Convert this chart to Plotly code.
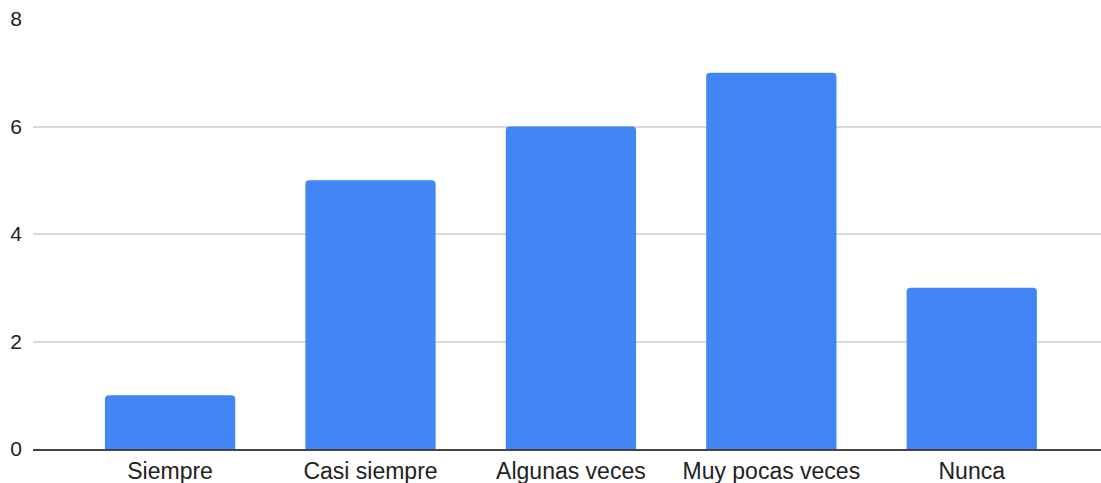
import plotly.graph_objects as go

categories = ["Siempre", "Casi siempre", "Algunas veces", "Muy pocas veces", "Nunca"]
values = [1, 5, 6, 7, 3]
y_ticks = [0, 2, 4, 6, 8]

fig = go.Figure(go.Bar(
    x=categories, y=values,
    marker=dict(color="#4285F4", line=dict(width=0)),
    hoverinfo="x+y",
))

fig.update_layout(
    width=1101, height=483,
    margin=dict(l=33, r=0, t=19, b=34),
    paper_bgcolor="white", plot_bgcolor="white",
    bargap=0.35,
    barcornerradius=4,
    showlegend=False,
    font=dict(family="Liberation Sans, Arial, sans-serif", size=21, color="#222222"),
)
fig.update_xaxes(
    type="category",
    range=[-0.684, 4.645],
    showgrid=False,
    showline=True, linecolor="#444444", linewidth=2,
    ticks="",
    tickfont=dict(size=23, color="#222222"),
)
fig.update_yaxes(
    range=[0, 8],
    tickvals=y_ticks,
    showgrid=True, gridcolor="#d9d9d9", gridwidth=2,
    zeroline=False,
    showline=False,
    ticks="",
    ticklabelstandoff=10,
    tickfont=dict(size=21, color="#222222"),
)

fig.write_html("out.html")
